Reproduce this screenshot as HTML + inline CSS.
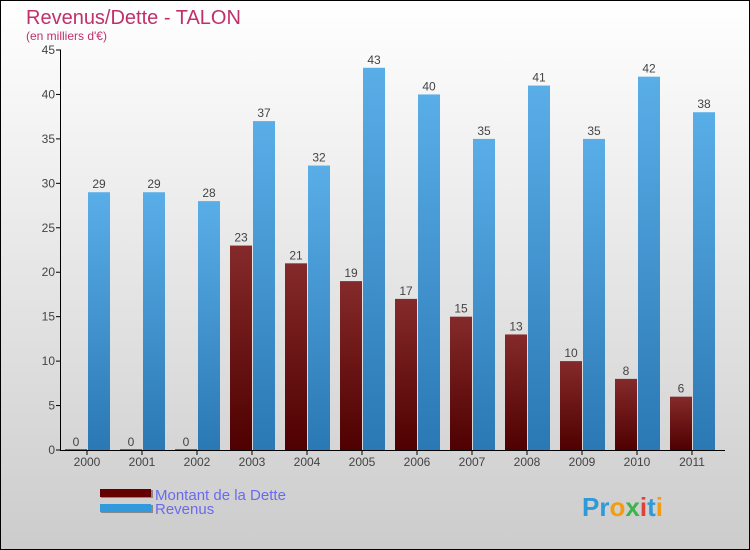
<!DOCTYPE html>
<html><head><meta charset="utf-8"><style>
body{margin:0;}
svg{display:block;font-family:"Liberation Sans",sans-serif;}
</style></head><body>
<svg id="c" width="750" height="550" xmlns="http://www.w3.org/2000/svg">
<defs>
<linearGradient id="bg" x1="0" y1="0" x2="0" y2="1"><stop offset="0" stop-color="#ffffff"/><stop offset="1" stop-color="#cccccc"/></linearGradient>
<linearGradient id="gd" x1="0" y1="0" x2="0" y2="1"><stop offset="0" stop-color="#852a2a"/><stop offset="1" stop-color="#4f0000"/></linearGradient>
<linearGradient id="gr" x1="0" y1="0" x2="0" y2="1"><stop offset="0" stop-color="#5aaee8"/><stop offset="1" stop-color="#2a78b4"/></linearGradient>
</defs>
<rect x="0.5" y="0.5" width="749" height="549" fill="url(#bg)" stroke="#000"/>
<text x="26" y="24" font-size="20" fill="#c0306a">Revenus/Dette - TALON</text>
<text x="26" y="40" font-size="12" fill="#c0306a">(en milliers d'€)</text>
<g id="plot"></g>
<g>
<rect x="101" y="490" width="52" height="8" fill="#888"/>
<rect x="100" y="489" width="51" height="8" fill="#660000"/>
<text x="155" y="500" font-size="15" fill="#6a6aee">Montant de la Dette</text>
<rect x="101" y="505" width="52" height="8" fill="#888"/>
<rect x="100" y="504" width="51" height="8" fill="#3399dd"/>
<text x="155" y="514" font-size="15" fill="#6a6aee">Revenus</text>
</g>
<text x="582" y="516" font-size="26" font-weight="bold" fill="#3399dd"><tspan fill="#2f9ad8">Pr</tspan><tspan fill="#f39c12">o</tspan><tspan fill="#3ab54a">x</tspan><tspan fill="#e0403a">i</tspan><tspan fill="#2f9ad8">t</tspan><tspan fill="#f39c12">i</tspan></text>
</svg>
<script>
const categories=["2000","2001","2002","2003","2004","2005","2006","2007","2008","2009","2010","2011"];
const dette=[0,0,0,23,21,19,17,15,13,10,8,6];
const revenus=[29,29,28,37,32,43,40,35,41,35,42,38];
const yTicks=[0,5,10,15,20,25,30,35,40,45];
const NS="http://www.w3.org/2000/svg";
const g=document.getElementById('plot');
const y0=450,yMax=45,ph=400,x0=65,gw=55,bw=22;
function y(v){return y0-v/yMax*ph;}
function gx(i){return x0+i*gw;}
function el(t,a){const e=document.createElementNS(NS,t);for(const k in a)e.setAttribute(k,a[k]);g.appendChild(e);return e;}
yTicks.forEach(t=>{
 const l=el('line',{x1:56,x2:61,y1:y(t),y2:y(t),stroke:'#000'});
 
 
 const tx=el('text',{x:55,y:y(t)+4,'font-size':12,fill:'#444','text-anchor':'end'});tx.textContent=t;
 
 
});
categories.forEach((c,i)=>{
 const d=dette[i],r=revenus[i];
 const b1=el('rect',{x:gx(i),y:y(d)-(d===0?1:0),width:bw,height:Math.max(y0-y(d),1),fill:d===0?'#a05050':'url(#gd)'});
 
 
 const b2=el('rect',{x:gx(i)+bw+1,y:y(r),width:bw,height:y0-y(r),fill:'url(#gr)'});
 
 
 const t1=el('text',{x:gx(i)+bw/2,y:y(d)-4,'font-size':12,fill:'#444','text-anchor':'middle'});t1.textContent=d;
 
 
 const t2=el('text',{x:gx(i)+bw*1.5+1,y:y(r)-4,'font-size':12,fill:'#444','text-anchor':'middle'});t2.textContent=r;
 
 
 const tk=el('line',{x1:gx(i)+bw,x2:gx(i)+bw,y1:y0,y2:y0+5,stroke:'#000'});
 
 
 const xl=el('text',{x:gx(i)+bw,y:466,'font-size':12,fill:'#444','text-anchor':'middle'});xl.textContent=c;
 
 
});
const ya=el('line',{x1:60.5,x2:60.5,y1:50,y2:y0,stroke:'#000'});


const xa=el('line',{x1:60,x2:725,y1:y0+0.5,y2:y0+0.5,stroke:'#000'});


</script>
</body></html>
